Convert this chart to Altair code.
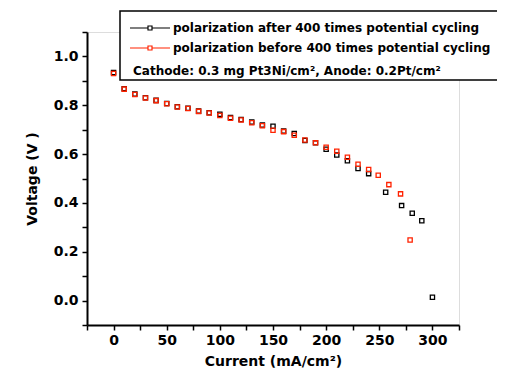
import altair as alt
import pandas as pd

# Series
after_x = [0, 10, 20, 30, 40, 50, 60, 70, 80, 90, 100, 110, 120, 130, 140, 150,
           160, 170, 180, 190, 200, 210, 220, 230, 240, 256, 271, 281, 290, 300]
after_y = [0.934, 0.868, 0.846, 0.831, 0.820, 0.807, 0.794, 0.788, 0.776, 0.769,
           0.763, 0.750, 0.742, 0.731, 0.719, 0.714, 0.694, 0.684, 0.656, 0.646,
           0.620, 0.596, 0.573, 0.541, 0.520, 0.444, 0.389, 0.358, 0.327, 0.014]

before_x = [0, 10, 20, 30, 40, 50, 60, 70, 80, 90, 100, 110, 120, 130, 140, 150,
            160, 170, 180, 190, 200, 210, 220, 230, 240, 249, 259, 270, 279]
before_y = [0.930, 0.866, 0.844, 0.830, 0.819, 0.806, 0.793, 0.787, 0.775, 0.768,
            0.758, 0.747, 0.740, 0.728, 0.716, 0.698, 0.692, 0.677, 0.658, 0.646,
            0.628, 0.612, 0.587, 0.558, 0.537, 0.513, 0.475, 0.437, 0.248]

series_names = ["polarization after 400 times potential cycling",
                "polarization before 400 times potential cycling"]
series_colors = ["#000000", "#ff2200"]
note_text = "Cathode: 0.3 mg Pt3Ni/cm\u00b2,  Anode: 0.2Pt/cm\u00b2"

x_ticks = list(range(-25, 326, 25))
y_ticks = [round(-0.1 + 0.1 * i, 1) for i in range(13)]

FONT = "DejaVu Sans"

df = pd.concat([
    pd.DataFrame({"current": after_x, "voltage": after_y, "series": series_names[0], "order": 0}),
    pd.DataFrame({"current": before_x, "voltage": before_y, "series": series_names[1], "order": 1}),
])

x_enc = alt.X("current:Q",
              scale=alt.Scale(domain=[-25, 325], nice=False, zero=False),
              axis=alt.Axis(title="Current (mA/cm\u00b2)", values=x_ticks,
                            labelExpr="datum.value % 50 == 0 ? datum.label : ''",
                            grid=False, domainWidth=2, domainColor="black",
                            tickColor="black", tickWidth=1.5, tickSize=5,
                            labelPadding=3, labelFont=FONT, labelFontSize=14,
                            labelFontWeight="bold", labelColor="black",
                            titleFont=FONT, titleFontSize=14, titleFontWeight="bold",
                            titleColor="black", titlePadding=7))
y_enc = alt.Y("voltage:Q",
              scale=alt.Scale(domain=[-0.1, 1.1], nice=False, zero=False),
              axis=alt.Axis(title="Voltage (V )", values=y_ticks,
                            labelExpr="abs(round(datum.value*10)) % 2 == 0 ? format(datum.value, '.1f') : ''",
                            grid=False, domainWidth=2, domainColor="black",
                            tickColor="black", tickWidth=1.5, tickSize=5,
                            labelPadding=4, labelFont=FONT, labelFontSize=14,
                            labelFontWeight="bold", labelColor="black",
                            titleFont=FONT, titleFontSize=14, titleFontWeight="bold",
                            titleColor="black", titlePadding=14))

points = alt.Chart(df).mark_point(shape="square", filled=False, size=18, strokeWidth=1.3, opacity=1).encode(
    x=x_enc, y=y_enc,
    color=alt.Color("series:N", scale=alt.Scale(domain=series_names, range=series_colors), legend=None),
    order=alt.Order("order:Q"),
)

one = pd.DataFrame({"a": [0]})

box = alt.Chart(one).mark_rect(fill="white", stroke="black", strokeWidth=1.5).encode(
    x=alt.value(33), x2=alt.value(440), y=alt.value(-21), y2=alt.value(48))

legend_layers = [box]
row_y = [-4, 16]
for i in range(2):
    legend_layers.append(alt.Chart(one).mark_rule(color=series_colors[i], strokeWidth=1.2).encode(
        x=alt.value(43), x2=alt.value(83), y=alt.value(row_y[i])))
    legend_layers.append(alt.Chart(one).mark_point(shape="square", filled=False, size=16,
                                                    strokeWidth=1.2, color=series_colors[i],
                                                    fill="white", fillOpacity=1, opacity=1).encode(
        x=alt.value(63), y=alt.value(row_y[i])))
    legend_layers.append(alt.Chart(one).mark_text(text=series_names[i], align="left", baseline="middle",
                                                  font=FONT, fontSize=12, fontWeight="bold",
                                                  color="black").encode(
        x=alt.value(86), y=alt.value(row_y[i])))
legend_layers.append(alt.Chart(one).mark_text(text=note_text, align="left", baseline="middle",
                                              font=FONT, fontSize=12, fontWeight="bold",
                                              color="black").encode(
    x=alt.value(46), y=alt.value(39)))

chart = alt.layer(points, *legend_layers).properties(
    width=372, height=293,
    padding={"left": 79, "top": 24, "right": 38, "bottom": 47},
    autosize=alt.AutoSizeParams(type="none"),
).configure_view(stroke=None).configure(background="white")

chart.save("out.html", embed_options={"renderer": "svg", "actions": False})
